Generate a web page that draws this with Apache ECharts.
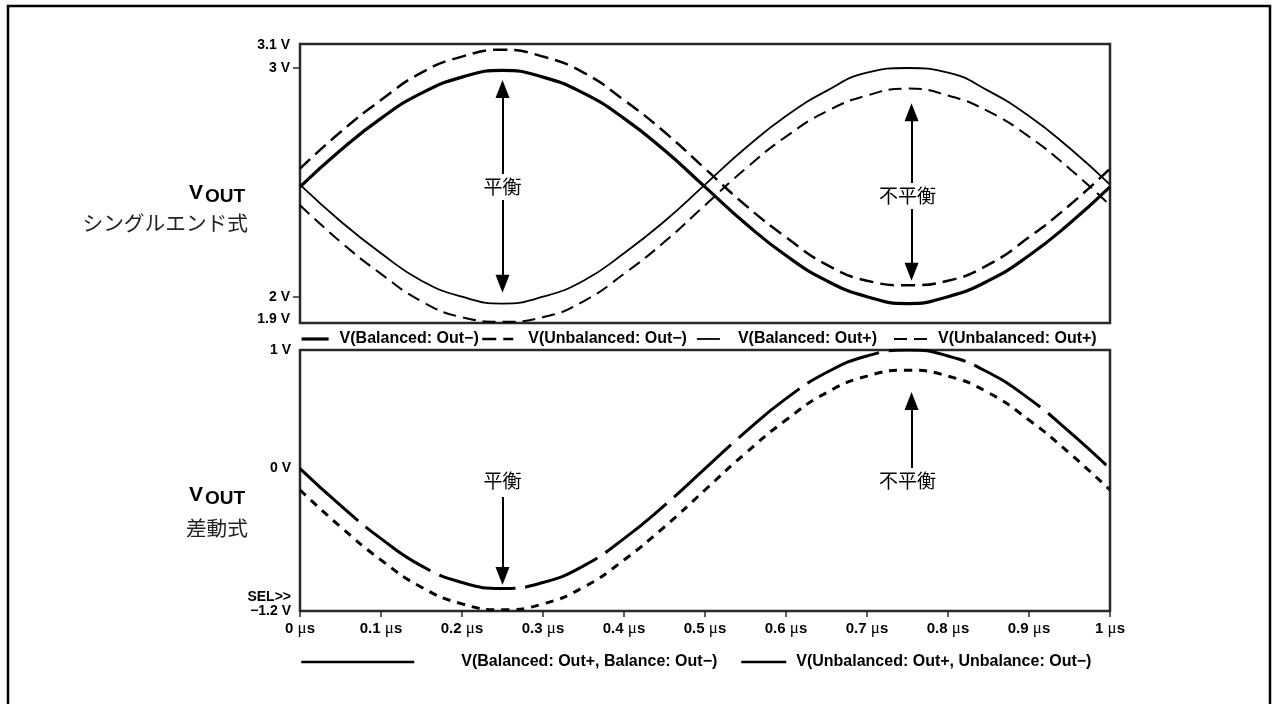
<!DOCTYPE html>
<html><head><meta charset="utf-8">
<script src="https://cdn.jsdelivr.net/npm/echarts@6/dist/echarts.min.js"></script>
<style>html,body{margin:0;padding:0;background:#fff}#c{width:1274px;height:704px}</style>
</head><body><div id="c"></div>
<script>
// time axis (µs)
const timeUs = [0,0.05,0.1,0.15,0.2,0.25,0.3,0.35,0.4,0.45,0.5,0.55,0.6,0.65,0.7,0.75,0.8,0.85,0.9,0.95,1];
// single-ended outputs (V)
const balancedOutMinus   = [2.48,2.64,2.78,2.89,2.96,2.99,2.96,2.89,2.78,2.64,2.48,2.32,2.18,2.07,2.00,1.97,2.00,2.07,2.18,2.32,2.48];
const unbalancedOutMinus = [2.56,2.72,2.86,2.98,3.05,3.08,3.05,2.98,2.86,2.72,2.56,2.40,2.26,2.14,2.07,2.05,2.07,2.14,2.26,2.40,2.56];
const balancedOutPlus    = [2.49,2.33,2.19,2.07,2.00,1.97,2.00,2.07,2.19,2.33,2.49,2.65,2.79,2.90,2.98,3.00,2.98,2.90,2.79,2.65,2.49];
const unbalancedOutPlus  = [2.40,2.24,2.10,1.98,1.91,1.89,1.91,1.98,2.10,2.24,2.40,2.56,2.70,2.81,2.88,2.91,2.88,2.81,2.70,2.56,2.40];
// differential outputs (V)
const balancedDiff   = [0,-0.31,-0.59,-0.82,-0.96,-1.01,-0.96,-0.82,-0.59,-0.31,0,0.31,0.59,0.81,0.95,1.00,0.95,0.81,0.59,0.31,0];
const unbalancedDiff = [-0.18,-0.49,-0.77,-1.00,-1.14,-1.19,-1.14,-1.00,-0.77,-0.49,-0.18,0.13,0.41,0.64,0.78,0.83,0.78,0.64,0.41,0.13,-0.18];
// tick labels
const topYLabels = [1.9, 2, 3, 3.1];
const topYTicks = [2, 3];
const bottomYLabels = [-1.2, 0, 1];
const seriesNames = ['V(Balanced: Out−)','V(Unbalanced: Out−)','V(Balanced: Out+)','V(Unbalanced: Out+)',
  'V(Balanced: Out+, Balance: Out−)','V(Unbalanced: Out+, Unbalance: Out−)'];

const pairs = arr => timeUs.map((t, i) => [t, arr[i]]);
const SANS = '"Liberation Sans", Arial, sans-serif';
const CJK = '"Noto Sans CJK JP", sans-serif';
const BLACK = '#000';
const boldTxt = size => ({ color: BLACK, fontWeight: 'bold', fontSize: size, fontFamily: SANS });

const styles = [
  { width: 3.2, type: 'solid' },
  { width: 2.5, type: [14, 7] },
  { width: 1.8, type: 'solid' },
  { width: 2.0, type: [13, 7] },
  { width: 3.0, type: [78, 10] },
  { width: 3.0, type: [8, 7] }
];

function lineSeries(idx, data, grid) {
  return {
    name: seriesNames[idx], type: 'line', data: pairs(data), xAxisIndex: grid, yAxisIndex: grid,
    smooth: true, symbol: 'none', showSymbol: false, silent: true,
    lineStyle: { color: BLACK, width: styles[idx].width, type: styles[idx].type, cap: 'butt' },
    itemStyle: { color: BLACK }
  };
}
const arrowLine = (from, to, sym) => ({
  silent: true, symbol: sym, symbolSize: [14, 18], label: { show: false },
  lineStyle: { color: BLACK, width: 2, type: 'solid' }, z: 4,
  data: [[{ coord: from }, { coord: to }]]
});
const textPoint = (pts, box) => ({
  silent: true, symbol: 'rect', symbolSize: box, z: 6,
  itemStyle: { color: '#fff' },
  label: { show: true, position: 'inside', color: BLACK, fontSize: 19, fontFamily: CJK, formatter: p => p.name },
  data: pts.map(p => ({ name: p[0], coord: p[1] }))
});

const s1 = lineSeries(0, balancedOutMinus, 0);
const s2 = lineSeries(1, unbalancedOutMinus, 0);
const s3 = lineSeries(2, balancedOutPlus, 0);
const s4 = lineSeries(3, unbalancedOutPlus, 0);
const s5 = lineSeries(4, balancedDiff, 1);
const s6 = lineSeries(5, unbalancedDiff, 1);

s1.markLine = arrowLine([0.25, 2.908], [0.25, 2.057], ['triangle', 'triangle']);
s1.markPoint = textPoint([['平衡', [0.25, 2.48]]], [56, 26]);
s3.markLine = arrowLine([0.755, 2.807], [0.755, 2.109], ['triangle', 'triangle']);
s3.markPoint = textPoint([['不平衡', [0.75, 2.44]]], [74, 26]);
s5.markLine = arrowLine([0.25, -0.24], [0.25, -0.905], ['none', 'triangle']);
s5.markPoint = textPoint([['平衡', [0.25, -0.105]]], [1, 1]);
s6.markLine = arrowLine([0.755, 0.005], [0.755, 0.57], ['none', 'triangle']);
s6.markPoint = textPoint([['不平衡', [0.75, -0.105]]], [1, 1]);

const legendItem = (idx, left, top, w, pad, solid) => ({
  left, top, itemWidth: w, itemHeight: 14, itemGap: 0, padding: 0,
  data: [seriesNames[idx]], selectedMode: false,
  textStyle: Object.assign(boldTxt(16), { padding: [0, 0, 0, pad] }),
  itemStyle: { color: 'rgba(0,0,0,0)', borderWidth: 0, opacity: 0 },
  lineStyle: solid ? { type: 'solid', width: 2.5, color: BLACK }
                   : { type: styles[idx].type, width: styles[idx].width, color: BLACK }
});

const option = {
  animation: false,
  backgroundColor: '#fff',
  grid: [
    { left: 300, top: 44, width: 810, height: 279, show: true, borderColor: '#2a2a2a', borderWidth: 2.5, backgroundColor: 'transparent', outerBoundsMode: 'none' },
    { left: 300, top: 350, width: 810, height: 261, show: true, borderColor: '#2a2a2a', borderWidth: 2.5, backgroundColor: 'transparent', outerBoundsMode: 'none' }
  ],
  xAxis: [
    { type: 'value', gridIndex: 0, min: 0, max: 1, interval: 0.1, show: true,
      axisLine: { show: false, onZero: false }, axisTick: { show: false }, axisLabel: { show: false }, splitLine: { show: false } },
    { type: 'value', gridIndex: 1, min: 0, max: 1, interval: 0.1,
      axisLine: { show: false, onZero: false }, splitLine: { show: false },
      axisTick: { show: true, inside: false, length: 6, lineStyle: { color: '#2a2a2a', width: 1.5 } },
      axisLabel: { margin: 9, color: BLACK,
        formatter: v => `{n|${+v.toFixed(2)} }{u|μ}{n|s}`,
        rich: { n: boldTxt(15), u: { color: BLACK, fontSize: 17, fontFamily: '"Liberation Serif", serif' } } } }
  ],
  yAxis: [
    { type: 'value', gridIndex: 0, min: 1.885, max: 3.105,
      axisLine: { show: false, onZero: false }, splitLine: { show: false },
      axisTick: { show: true, length: 7, customValues: topYTicks, lineStyle: { color: '#2a2a2a', width: 1.5 } },
      axisLabel: { margin: 10, customValues: topYLabels, formatter: v => `${+(+v).toFixed(2)} V`, ...boldTxt(14) } },
    { type: 'value', gridIndex: 1, min: -1.2, max: 1.0,
      axisLine: { show: false, onZero: false }, splitLine: { show: false }, axisTick: { show: false },
      axisLabel: { margin: 9, customValues: bottomYLabels,
        formatter: v => (+v < -1.1 ? '{b|SEL>>}\n{b|−1.2 V}\n{b| }' : `{b|${+(+v).toFixed(2)} V}`),
        rich: { b: Object.assign(boldTxt(14), { lineHeight: 14, align: 'right' }) } } }
  ],
  legend: [
    legendItem(0, 300, 331, 27, 6),
    legendItem(1, 481, 331, 31, 10),
    legendItem(2, 696, 331, 23, 13),
    legendItem(3, 893, 331, 38, 1),
    legendItem(4, 300, 654, 113, 42, true),
    legendItem(5, 740, 654, 45, 5, true)
  ],
  graphic: [
    { type: 'rect', shape: { x: 8, y: 6, width: 1262, height: 730 }, style: { fill: 'none', stroke: '#000', lineWidth: 2.5 }, silent: true },
    { type: 'text', x: 203, y: 193, style: { text: 'V', font: `bold 21px ${SANS}`, fill: BLACK, textAlign: 'right', textVerticalAlign: 'middle' } },
    { type: 'text', x: 245, y: 197, style: { text: 'OUT', font: `bold 19px ${SANS}`, fill: BLACK, textAlign: 'right', textVerticalAlign: 'middle' } },
    { type: 'text', x: 248, y: 223, style: { text: 'シングルエンド式', font: `20.7px ${CJK}`, fill: '#222', textAlign: 'right', textVerticalAlign: 'middle' } },
    { type: 'text', x: 203, y: 495, style: { text: 'V', font: `bold 21px ${SANS}`, fill: BLACK, textAlign: 'right', textVerticalAlign: 'middle' } },
    { type: 'text', x: 245, y: 499, style: { text: 'OUT', font: `bold 19px ${SANS}`, fill: BLACK, textAlign: 'right', textVerticalAlign: 'middle' } },
    { type: 'text', x: 248, y: 528, style: { text: '差動式', font: `20.7px ${CJK}`, fill: '#222', textAlign: 'right', textVerticalAlign: 'middle' } }
  ],
  series: [s1, s2, s3, s4, s5, s6]
};
const chart = echarts.init(document.getElementById('c'), null, { renderer: 'canvas' });
chart.setOption(option);
</script></body></html>
